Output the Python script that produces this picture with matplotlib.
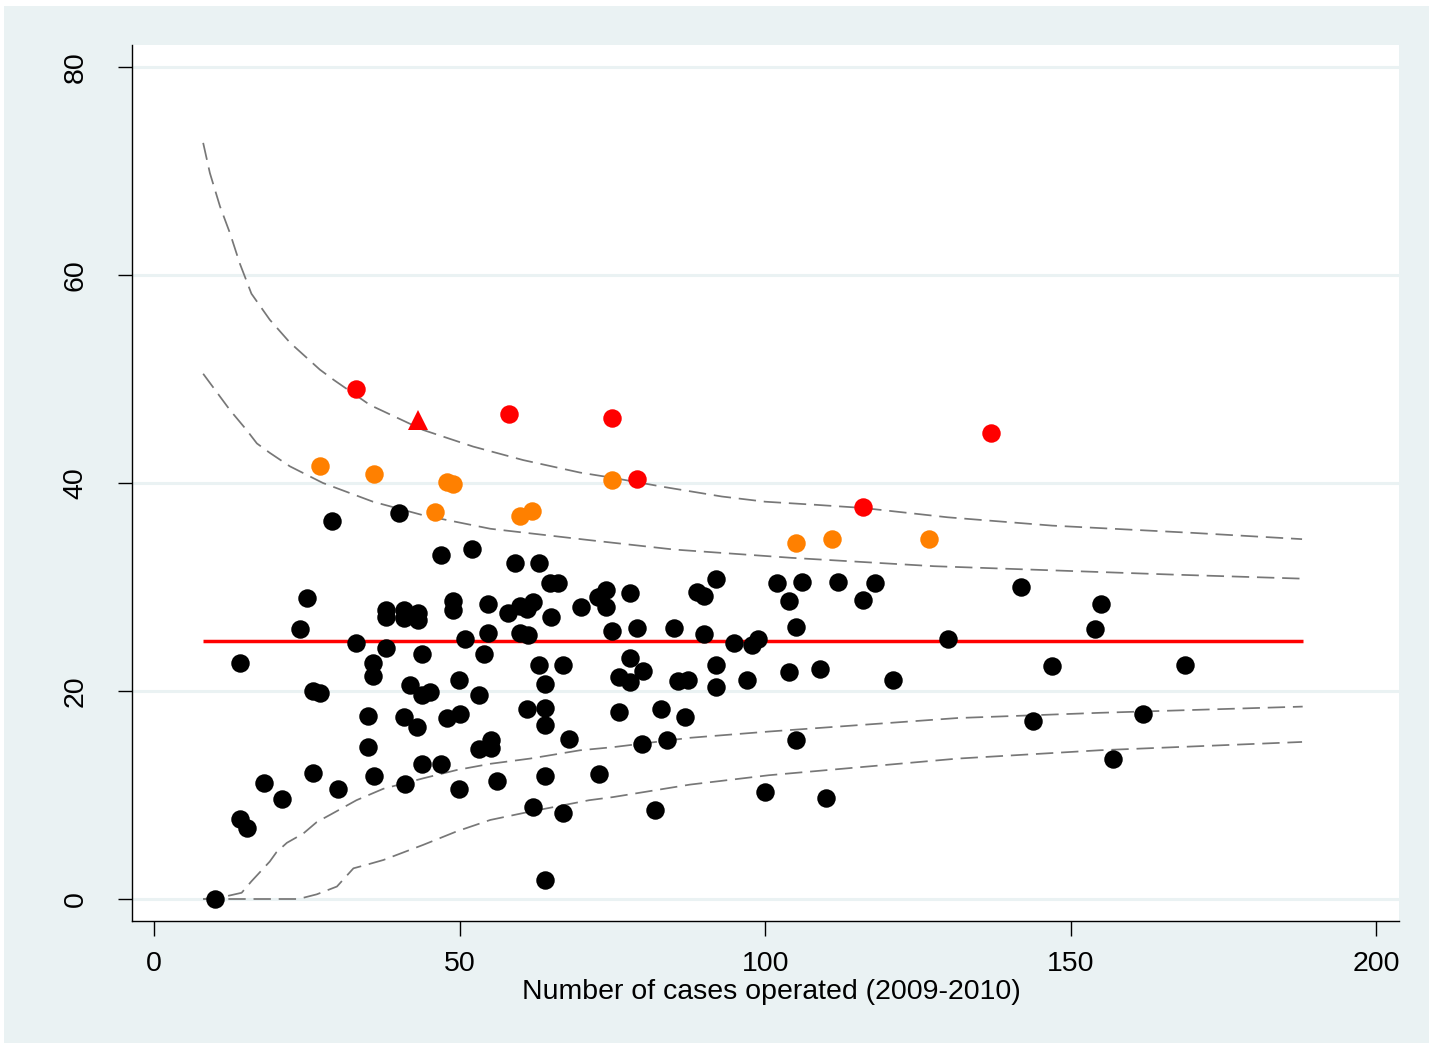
import matplotlib
matplotlib.use("Agg")
import matplotlib.pyplot as plt
from matplotlib.patches import Rectangle

plt.rcParams['font.family'] = ['Liberation Sans', 'DejaVu Sans']

# ---------------- data ----------------
black_x = [9.9, 14.0, 14.0, 15.1, 18.0, 20.9, 23.85, 24.95, 25.9, 26.0, 27.1, 29.1, 30.1, 33.0,
           35.0, 35.0, 35.85, 35.85, 36.0, 38.0, 38.0, 38.0, 40.0, 40.8, 40.8, 40.9, 41.0, 41.9,
           43.1, 43.1, 43.0, 43.9, 43.9, 43.9, 45.1, 46.9, 46.9, 47.9, 48.85, 48.85, 49.9, 49.9,
           50.0, 50.9, 52.0, 53.1, 53.1, 53.9, 54.6, 54.6, 55.1, 55.1, 56.05, 57.95, 59.05, 59.9,
           59.9, 61.0, 61.2, 61.0, 61.95, 62.0, 62.9, 62.9, 64.0, 64.0, 64.0, 64.0, 64.0, 64.8,
           64.9, 66.1, 66.85, 66.9, 67.9, 69.85, 72.7, 72.85, 73.95, 73.95, 74.9, 76.0, 76.0,
           77.9, 77.9, 77.9, 79.1, 79.9, 79.95, 82.0, 82.9, 84.0, 85.0, 85.8, 86.8, 87.4, 88.8,
           90.0, 90.0, 91.95, 91.95, 91.95, 94.9, 97.0, 97.8, 98.9, 100.0, 102.0, 103.95, 103.95,
           105.05, 105.0, 106.0, 109.0, 110.0, 111.9, 116.0, 118.0, 120.9, 129.95, 141.9, 143.85,
           146.9, 154.0, 155.0, 156.9, 161.9, 168.8]
black_y = [0.0, 22.7, 7.7, 6.8, 11.2, 9.6, 26.0, 28.9, 12.1, 20.0, 19.8, 36.3, 10.6, 24.6,
           17.6, 14.6, 22.7, 21.4, 11.8, 27.8, 27.1, 24.1, 37.1, 27.8, 27.0, 17.5, 11.1, 20.6,
           27.5, 26.8, 16.5, 23.6, 19.6, 13.0, 19.9, 33.1, 13.0, 17.4, 28.65, 27.8, 21.1, 10.6,
           17.8, 25.0, 33.65, 19.6, 14.4, 23.6, 28.4, 25.6, 15.3, 14.5, 11.3, 27.5, 32.3, 28.2,
           25.6, 27.9, 25.4, 18.3, 8.8, 28.6, 32.3, 22.5, 20.7, 18.4, 16.7, 11.8, 1.8, 30.35,
           27.1, 30.35, 8.3, 22.5, 15.4, 28.05, 29.0, 12.0, 29.7, 28.05, 25.8, 21.3, 17.95,
           29.45, 23.2, 20.9, 26.1, 14.9, 21.9, 8.6, 18.3, 15.3, 26.1, 21.0, 17.5, 21.05, 29.5,
           29.1, 25.5, 30.8, 22.5, 20.4, 24.6, 21.05, 24.4, 25.0, 10.3, 30.35, 28.65, 21.85,
           26.2, 15.3, 30.5, 22.1, 9.7, 30.5, 28.75, 30.4, 21.1, 24.97, 29.97, 17.1,
           22.4, 25.96, 28.4, 13.5, 17.8, 22.5]

orange_x = [27.1, 36.0, 46.0, 47.9, 48.95, 59.9, 61.9, 74.9, 105.0, 110.9, 126.9]
orange_y = [41.6, 40.9, 37.2, 40.1, 39.9, 36.85, 37.3, 40.3, 34.2, 34.6, 34.6]

red_x = [33.0, 58.1, 74.9, 79.0, 116.0, 136.9]
red_y = [49.0, 46.6, 46.2, 40.35, 37.7, 44.8]

tri_x = [43.1]
tri_y = [46.1]

mean_x = [8.0, 188.0]
mean_y = [24.8, 24.8]

up3_x = [8.0, 9.1, 10.75, 12.4, 14.0, 15.9, 18.9, 22.2, 27.1, 29.4, 35.3, 44.0, 52.2, 60.4,
         69.7, 75.0, 83.6, 92.9, 100.0, 108.3, 116.0, 129.9, 147.0, 170.1, 187.9]
up3_y = [72.7, 69.8, 66.6, 64.0, 61.1, 58.2, 55.7, 53.5, 50.9, 49.9, 47.5, 45.1, 43.5, 42.2,
         41.0, 40.5, 39.6, 38.7, 38.2, 37.9, 37.6, 36.7, 35.9, 35.2, 34.6]

up2_x = [8.0, 12.4, 15.1, 16.8, 18.9, 22.2, 27.6, 35.8, 44.0, 55.0, 71.3, 85.1, 104.4, 127.6,
         147.0, 166.3, 188.0]
up2_y = [50.5, 47.0, 45.1, 43.8, 42.9, 41.6, 40.0, 38.2, 36.9, 35.6, 34.5, 33.6, 32.8, 32.0,
         31.6, 31.2, 30.8]

lo2_x = [8.0, 11.3, 14.3, 15.9, 18.9, 20.0, 21.7, 24.4, 26.6, 28.8, 33.1, 37.5, 44.0, 49.5,
         55.0, 61.5, 69.7, 75.1, 87.7, 100.6, 131.5, 154.7, 188.0]
lo2_y = [0.0, 0.2, 0.6, 1.7, 3.6, 4.5, 5.4, 6.3, 7.4, 8.1, 9.5, 10.6, 11.6, 12.4,
         13.0, 13.5, 14.3, 14.6, 15.5, 16.1, 17.4, 17.9, 18.5]

lo3_x = [8.0, 23.6, 26.6, 29.9, 32.6, 34.8, 37.5, 44.0, 49.5, 55.0, 61.5, 71.2, 75.1, 87.7,
         100.6, 131.5, 154.7, 187.9]
lo3_y = [0.0, 0.0, 0.45, 1.2, 2.95, 3.3, 3.75, 5.2, 6.5, 7.6, 8.4, 9.5, 9.8, 11.0,
         11.9, 13.5, 14.3, 15.1]

xticks = [0, 50, 100, 150, 200]
yticks = [0, 20, 40, 60, 80]
xlabel = "Number of cases operated (2009-2010)"

# ---------------- figure ----------------
BG = '#EAF2F3'
W, H = 1429, 1043
FS = 20.5
fig = plt.figure(figsize=(W / 100, H / 100), dpi=100, facecolor='white')
fig.patches.append(Rectangle((4 / W, 0), 1 - 4 / W, 1 - 6 / H, transform=fig.transFigure,
                             facecolor=BG, edgecolor='none', zorder=-10))

ax = fig.add_axes([131.7 / W, 1 - 921 / H, (1399 - 131.7) / W, (921 - 44.7) / H])
ax.set_facecolor('white')
ax.set_xlim(-3.7, 203.77)
ax.set_ylim(-2.115, 82.14)

for s in ['top', 'right']:
    ax.spines[s].set_visible(False)
for s in ['left', 'bottom']:
    ax.spines[s].set_color('black')
    ax.spines[s].set_linewidth(1.0)

for yv in yticks:
    ax.axhline(yv, color=BG, lw=2.2, zorder=0.5)

dash = (0, (10, 4.5))
gray = '#777777'
for xs, ys in [(up3_x, up3_y), (up2_x, up2_y), (lo2_x, lo2_y), (lo3_x, lo3_y)]:
    ax.plot(xs, ys, color=gray, lw=1.25, ls=dash, zorder=2)

ax.plot(mean_x, mean_y, color='#FF0000', lw=2.5, zorder=3, solid_capstyle='butt')

ms = 13.3
ax.plot(black_x, black_y, 'o', color='black', ms=ms, mew=0, zorder=4)
ax.plot(orange_x, orange_y, 'o', color='#FF8000', ms=ms, mew=0, zorder=4)
ax.plot(red_x, red_y, 'o', color='#FF0000', ms=ms, mew=0, zorder=4)
ax.plot(tri_x, tri_y, '^', color='#FF0000', ms=15, mew=0, zorder=4)

ax.set_xticks(xticks)
ax.set_yticks(yticks)
ax.tick_params(axis='x', length=10.8, width=1.0, pad=10.5, labelsize=FS, color='black')
ax.tick_params(axis='y', length=10.1, width=1.0, pad=21.0, labelsize=FS, color='black',
               labelrotation=90)
for lab in ax.get_yticklabels():
    lab.set_va('center')
ax.set_xlabel(xlabel, fontsize=FS, labelpad=1.5)
ax.xaxis.label.set_x(0.5047)

fig.savefig('out.png', dpi=100, facecolor=fig.get_facecolor())
